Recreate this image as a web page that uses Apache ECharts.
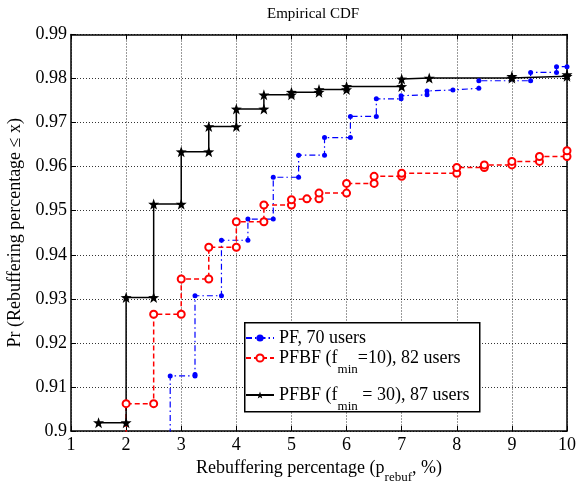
<!DOCTYPE html>
<html>
<head>
<meta charset="utf-8">
<script src="https://cdn.jsdelivr.net/npm/echarts@6/dist/echarts.min.js"></script>
<style>
  html, body { margin: 0; padding: 0; background: #fff; }
  #chart { width: 582px; height: 481px; }
</style>
</head>
<body>
<div id="chart"></div>
<script>
// corner points of the stairs
var pfX = [2.8, 2.8, 3.25, 3.25, 3.25, 3.73, 3.73, 4.21, 4.21, 4.67, 4.67, 5.13, 5.13, 5.6, 5.6, 6.07, 6.07, 6.54, 6.54, 6.99, 6.99, 7.46, 7.46, 7.93, 8.4, 8.4, 9.34, 9.34, 9.81, 9.81, 10];
var pfY = [0.89, 0.9125, 0.9125, 0.9128, 0.9307, 0.9307, 0.9433, 0.9433, 0.9481, 0.9481, 0.9576, 0.9576, 0.9626, 0.9626, 0.9666, 0.9666, 0.9714, 0.9714, 0.9754, 0.9754, 0.9761, 0.9763, 0.9772, 0.9774, 0.9778, 0.9795, 0.9795, 0.9814, 0.9814, 0.9827, 0.9827];

var pfbf10X = [2, 2, 2.5, 2.5, 3, 3, 3.5, 3.5, 4, 4, 4.5, 4.5, 5, 5, 5.28, 5.5, 5.5, 6, 6, 6.5, 6.5, 7, 7, 8, 8, 8.5, 8.5, 9, 9, 9.5, 9.5, 10, 10];
var pfbf10Y = [0.89, 0.9062, 0.9062, 0.9265, 0.9265, 0.9345, 0.9345, 0.9417, 0.9417, 0.9475, 0.9475, 0.9513, 0.9513, 0.9525, 0.9527, 0.9527, 0.9540, 0.9540, 0.9562, 0.9562, 0.9578, 0.9578, 0.9585, 0.9585, 0.9598, 0.9598, 0.9604, 0.9604, 0.9612, 0.9612, 0.9623, 0.9623, 0.9636];

var pfbf30X = [1.5, 2, 2, 2.5, 2.5, 3, 3, 3.5, 3.5, 4, 4, 4.5, 4.5, 5, 5, 5.5, 5.5, 6, 6, 7, 7, 7.5, 9, 9, 10, 10];
var pfbf30Y = [0.9019, 0.9019, 0.9303, 0.9303, 0.9515, 0.9515, 0.9634, 0.9634, 0.9691, 0.9691, 0.9731, 0.9731, 0.9763, 0.9763, 0.9769, 0.9769, 0.9775, 0.9775, 0.9782, 0.9782, 0.9799, 0.9801, 0.9801, 0.9805, 0.9805, 0.9809];

var xTicks = [1, 10, 1];      // min, max, step
var yTicks = [0.9, 0.99, 0.01];

function pairs(xs, ys) {
    var out = [];
    for (var i = 0; i < xs.length; i++) out.push([xs[i], ys[i]]);
    return out;
}

var FONT = "'Liberation Serif', 'Times New Roman', serif";
var STAR = 'path://M0,-10 L2.35,-3.24 L9.51,-3.09 L3.8,1.24 L5.88,8.09 L0,4 L-5.88,8.09 L-3.8,1.24 L-9.51,-3.09 L-2.35,-3.24 Z';

// main text + subscript (sub sits below the baseline)
function subRich(size, subSize, drop) {
    return {
        n: { fontFamily: FONT, fontSize: size, lineHeight: size + 2, color: '#000', verticalAlign: 'middle' },
        s: { fontFamily: FONT, fontSize: subSize, color: '#000', verticalAlign: 'bottom', padding: [drop, 0, 0, 0] }
    };
}

var legendText = {
    'PF': '{n|PF, 70 users}',
    'PFBF10': '{n|PFBF (f}{s|min}{n|=10), 82 users}',
    'PFBF30': '{n|PFBF (f}{s|min}{n| = 30), 87 users}'
};

var chartDom = document.getElementById('chart');
var myChart = echarts.init(chartDom, null, { renderer: 'canvas' });

var gridLine = { show: true, lineStyle: { color: '#000', type: [1, 2], width: 0.8 } };
var axisLine = { show: true, lineStyle: { color: '#000', width: 1.5 } };
var tick = { show: true, inside: true, length: 5, lineStyle: { color: '#000', width: 1 } };

function oneLegend(name, top) {
    return {
        orient: 'vertical',
        left: 245,
        top: top,
        itemWidth: 28,
        itemHeight: 9,
        itemGap: 0,
        padding: 0,
        z: 6,
        data: [name],
        formatter: function (n) { return legendText[n]; },
        textStyle: { fontFamily: FONT, fontSize: 18, color: '#000', rich: subRich(18, 13, 24) }
    };
}

var option = {
    animation: false,
    backgroundColor: '#fff',
    title: {
        text: 'Empirical CDF',
        left: 262,
        top: 2,
        textStyle: { fontFamily: FONT, fontSize: 15, fontWeight: 'normal', color: '#000' }
    },
    grid: { left: 71, right: 15, top: 34.5, bottom: 50, outerBoundsMode: 'none', containLabel: false },
    // legend box
    graphic: [{
        type: 'rect',
        left: 244, top: 322,
        z: 5,
        shape: { width: 235, height: 89 },
        style: { fill: '#fff', stroke: '#000', lineWidth: 1.5 }
    }],
    legend: [
        oneLegend('PF', 329),
        oneLegend('PFBF10', 349),
        oneLegend('PFBF30', 386)
    ],
    xAxis: [{
        type: 'value',
        min: xTicks[0], max: xTicks[1], interval: xTicks[2],
        name: '{n|Rebuffering percentage (p}{s|rebuf}{n|, %)}',
        nameLocation: 'middle',
        nameGap: 4,
        nameTextStyle: { fontFamily: FONT, fontSize: 18, color: '#000', rich: subRich(18, 13, 19) },
        axisLine: axisLine,
        axisTick: tick,
        splitLine: gridLine,
        axisLabel: { fontFamily: FONT, fontSize: 18, color: '#000', margin: 5 }
    }, {
        type: 'value', position: 'top',
        min: xTicks[0], max: xTicks[1], interval: xTicks[2],
        axisLine: axisLine, axisTick: tick,
        axisLabel: { show: false }, splitLine: { show: false }
    }],
    yAxis: [{
        type: 'value',
        min: yTicks[0], max: yTicks[1], interval: yTicks[2],
        name: 'Pr (Rebuffering percentage \u2264 x)',
        nameLocation: 'middle',
        nameGap: 37,
        nameTextStyle: { fontFamily: FONT, fontSize: 18, color: '#000' },
        axisLine: axisLine,
        axisTick: tick,
        splitLine: gridLine,
        axisLabel: {
            fontFamily: FONT, fontSize: 18, color: '#000', margin: 4,
            formatter: function (v) { return String(+v.toFixed(2)); }
        }
    }, {
        type: 'value', position: 'right',
        min: yTicks[0], max: yTicks[1], interval: yTicks[2],
        axisLine: axisLine, axisTick: tick,
        axisLabel: { show: false }, splitLine: { show: false }
    }],
    series: [{
        name: 'PF',
        type: 'line',
        data: pairs(pfX, pfY),
        symbol: 'circle',
        symbolSize: 5,
        showAllSymbol: true,
        itemStyle: { color: '#0000ff' },
        lineStyle: { color: '#0000ff', width: 1.2, type: [6, 3, 1.5, 3] }
    }, {
        name: 'PFBF10',
        type: 'line',
        data: pairs(pfbf10X, pfbf10Y),
        symbol: 'emptyCircle',
        symbolSize: 7,
        showAllSymbol: true,
        itemStyle: { color: '#ff0000', borderWidth: 1.5 },
        lineStyle: { color: '#ff0000', width: 1.5, type: [5, 3] }
    }, {
        name: 'PFBF30',
        type: 'line',
        data: pairs(pfbf30X, pfbf30Y),
        symbol: STAR,
        symbolSize: 11,
        showAllSymbol: true,
        itemStyle: { color: '#000' },
        lineStyle: { color: '#000', width: 1.5 }
    }]
};

myChart.setOption(option);
</script>
</body>
</html>
